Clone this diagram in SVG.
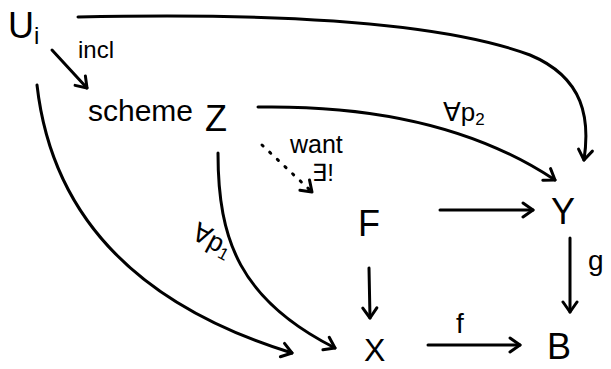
<svg xmlns="http://www.w3.org/2000/svg" width="611" height="369" viewBox="0 0 611 369">
<style>
text{font-family:"Liberation Sans","DejaVu Sans",sans-serif;fill:#000}
.n{font-size:36px}
.l{font-size:24px}
.e{fill:none;stroke:#000;stroke-width:3;stroke-linecap:round;stroke-linejoin:round}
.d{stroke-dasharray:1.5 9}
</style>
<defs>
<marker id="a" markerUnits="userSpaceOnUse" markerWidth="24" markerHeight="24" viewBox="-12 -12 24 24" refX="0" refY="0" orient="auto">
<path d="M-10,-7 L0,0 L-10,7" fill="none" stroke="#000" stroke-width="3" stroke-linecap="round" stroke-linejoin="round"/>
</marker>
</defs>
<rect width="611" height="369" fill="#fff"/>
<g id="connectors">
<path class="e" d="M78,17 C300,12 450,25 530,55 C585,78 590,120 584,160" marker-end="url(#a)"/>
<path class="e" d="M52,50 L87,88" marker-end="url(#a)"/>
<path class="e" d="M258,107 C380,105 480,130 555,180" marker-end="url(#a)"/>
<path class="e d" d="M262,145 L312,192" marker-end="url(#a)"/>
<path class="e" d="M218,153 C218,240 240,300 335,348" marker-end="url(#a)"/>
<path class="e" d="M37,85 C50,200 120,300 292,353" marker-end="url(#a)"/>
<path class="e" d="M440,210 L533,210" marker-end="url(#a)"/>
<path class="e" d="M570,238 L570,312" marker-end="url(#a)"/>
<path class="e" d="M369,268 L370,318" marker-end="url(#a)"/>
<path class="e" d="M428,345 L520,345" marker-end="url(#a)"/>
</g>
<g id="labels">
<text class="l" x="78" y="58">incl</text>
<text font-size="26" x="443" y="121">∀p<tspan font-size="17" dy="4">2</tspan></text>
<text font-size="25" x="290" y="153">want</text>
<text font-size="24" x="312" y="181">∃!</text>
<text font-size="26" transform="translate(190,238) rotate(28)">∀p<tspan font-size="17" dy="4">1</tspan></text>
<text font-size="28" x="588" y="270">g</text>
<text font-size="28" x="456" y="333">f</text>
</g>
<g id="U"><text class="n" x="8" y="38">U<tspan font-size="24" dy="6">i</tspan></text></g>
<g id="Z"><text font-size="30" x="88" y="121">scheme</text><text font-size="36" x="205" y="131">Z</text></g>
<g id="F"><text class="n" x="358" y="236">F</text></g>
<g id="Y"><text class="n" x="551" y="224">Y</text></g>
<g id="X"><text font-size="32" x="364" y="361">X</text></g>
<g id="B"><text class="n" x="547" y="359">B</text></g>
</svg>
